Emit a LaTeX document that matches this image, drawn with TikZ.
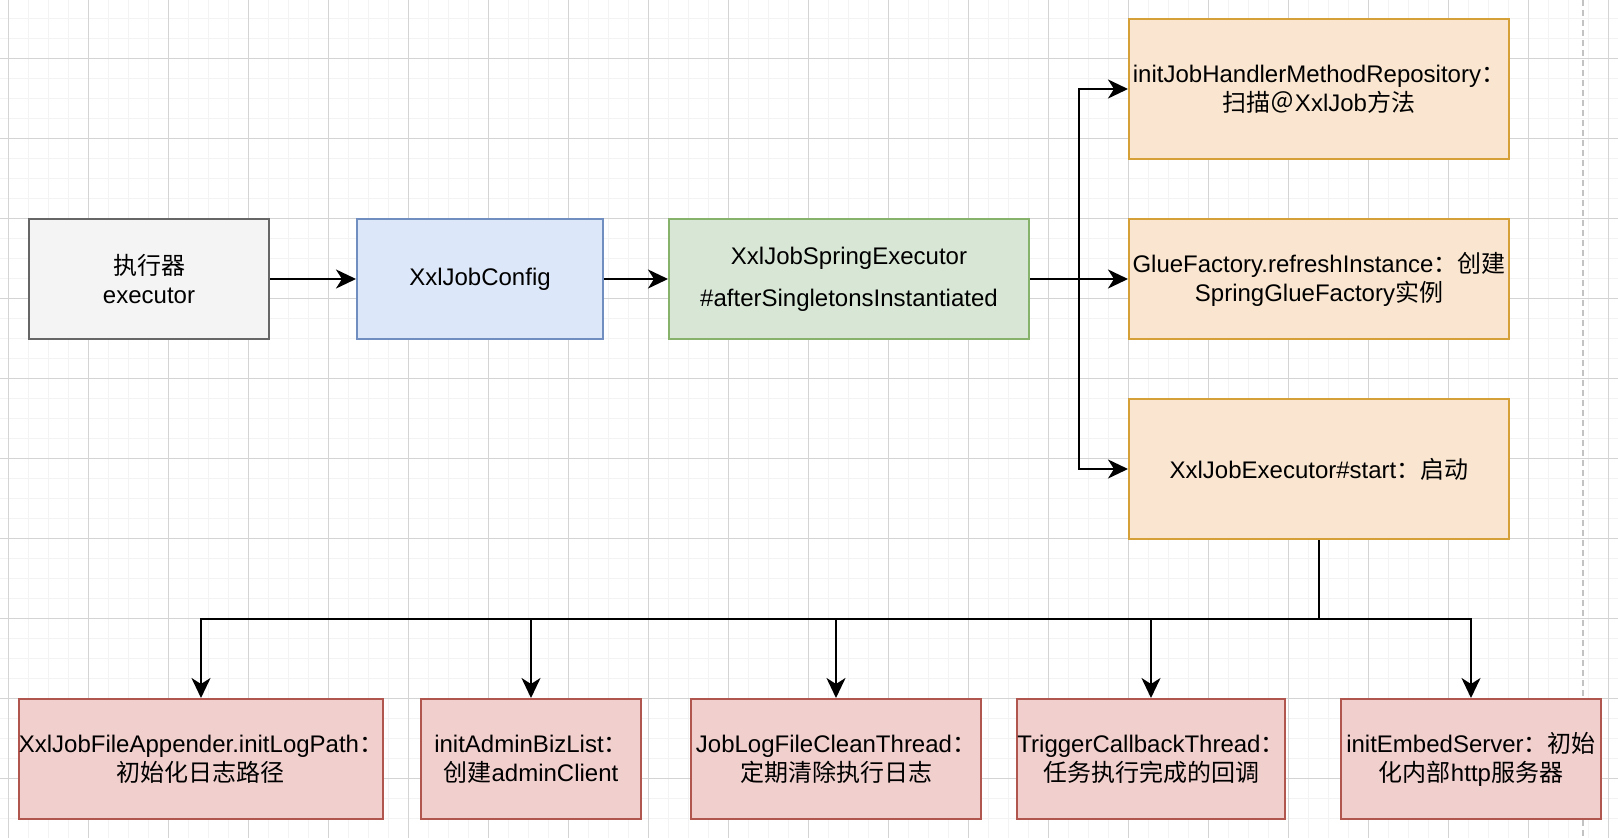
\documentclass[tikz,border=0pt]{standalone}
\usepackage{fontspec}
\setmainfont{Liberation Sans}
\newfontfamily\cjkfont{Noto Sans CJK SC}
\newcommand{\zh}[1]{{\cjkfont #1}}
\usetikzlibrary{arrows.meta}
\definecolor{gridminor}{RGB}{243,243,243}
\definecolor{gridmajor}{RGB}{212,212,212}
\definecolor{pagebreak}{RGB}{195,195,195}
\definecolor{grayfill}{RGB}{244,244,244}
\definecolor{graydraw}{RGB}{102,102,102}
\definecolor{bluefill}{RGB}{220,231,249}
\definecolor{bluedraw}{RGB}{112,142,192}
\definecolor{greenfill}{RGB}{216,231,213}
\definecolor{greendraw}{RGB}{135,178,107}
\definecolor{orangefill}{RGB}{250,230,208}
\definecolor{orangedraw}{RGB}{214,160,56}
\definecolor{redfill}{RGB}{241,207,205}
\definecolor{reddraw}{RGB}{177,86,79}
\tikzset{
  box/.style={draw, line width=2pt, inner sep=0pt, align=center,
    font=\fontsize{24}{29}\selectfont, minimum height=120pt},
  graybox/.style={box, fill=grayfill, draw=graydraw},
  bluebox/.style={box, fill=bluefill, draw=bluedraw},
  greenbox/.style={box, fill=greenfill, draw=greendraw},
  orangebox/.style={box, fill=orangefill, draw=orangedraw, minimum width=380pt},
  redbox/.style={box, fill=redfill, draw=reddraw},
  arr/.style={line width=2.4pt, black, -{Stealth[length=20pt,width=19pt,inset=6pt]}},
  minorline/.style={gridminor, line width=1.2pt},
  majorline/.style={gridmajor, line width=1pt},
}
\begin{document}
\begin{tikzpicture}[x=1pt, y=-1pt]
\useasboundingbox (0,0) rectangle (1618,838);
\fill[white] (0,0) rectangle (1618,838);
% grid
\foreach \k in {0,...,80} \draw[minorline] (8.3+20*\k,0) -- (8.3+20*\k,838);
\foreach \k in {-1,...,41} \draw[minorline] (0,18.3+20*\k) -- (1618,18.3+20*\k);
\foreach \k in {0,...,20} \draw[majorline] (8.3+80*\k,0) -- (8.3+80*\k,838);
\foreach \k in {-1,...,10} \draw[majorline] (0,58.3+80*\k) -- (1618,58.3+80*\k);
% page break line
\draw[pagebreak, line width=1.3pt, dash pattern=on 6pt off 4pt] (1583,0) -- (1583,838);

% top row
\node[graybox, minimum width=240pt] (exec) at (149,279) {\zh{执行器}\\executor};
\node[bluebox, minimum width=246pt] (config) at (480,279) {XxlJobConfig};
\node[greenbox, minimum width=360pt] (spring) at (849,279)
  {XxlJobSpringExecutor\\[13pt]\#afterSingletonsInstantiated};

% right column
\node[orangebox, minimum height=140pt] (scan) at (1319,89)
  {initJobHandlerMethodRepository\zh{：}\\\zh{扫描＠}XxlJob\zh{方法}};
\node[orangebox] (glue) at (1319,279)
  {GlueFactory.refreshInstance\zh{：创建}\\SpringGlueFactory\zh{实例}};
\node[orangebox, minimum height=140pt] (start) at (1319,469)
  {XxlJobExecutor\#start\zh{：启动}};

% bottom row
\node[redbox, minimum width=360pt] (logpath) at (201,759)
  {XxlJobFileAppender.initLogPath\zh{：}\\\zh{初始化日志路径}};
\node[redbox, minimum width=220pt] (admin) at (531,759)
  {initAdminBizList\zh{：}\\\zh{创建}adminClient};
\node[redbox, minimum width=290pt] (clean) at (836,759)
  {JobLogFileCleanThread\zh{：}\\\zh{定期清除执行日志}};
\node[redbox, minimum width=260pt] (callback) at (1151,759)
  {TriggerCallbackThread\zh{：}\\\zh{任务执行完成的回调}};
\node[redbox, minimum width=260pt] (embed) at (1471,759)
  {initEmbedServer\zh{：初始}\\\zh{化内部}http\zh{服务器}};

% connectors
\coordinate (split) at (1079,279);
\coordinate (bus) at (1319,619);
\draw[arr] (exec.east) -- (config.west);
\draw[arr] (config.east) -- (spring.west);
\draw[arr] (spring.east) -- (glue.west);
\draw[arr] (spring.east) -- (split) |- (scan.west);
\draw[arr] (spring.east) -- (split) |- (start.west);
\draw[arr] (start.south) -- (bus) -| (logpath.north);
\draw[arr] (start.south) -- (bus) -| (admin.north);
\draw[arr] (start.south) -- (bus) -| (clean.north);
\draw[arr] (start.south) -- (bus) -| (callback.north);
\draw[arr] (start.south) -- (bus) -| (embed.north);
\end{tikzpicture}
\end{document}
